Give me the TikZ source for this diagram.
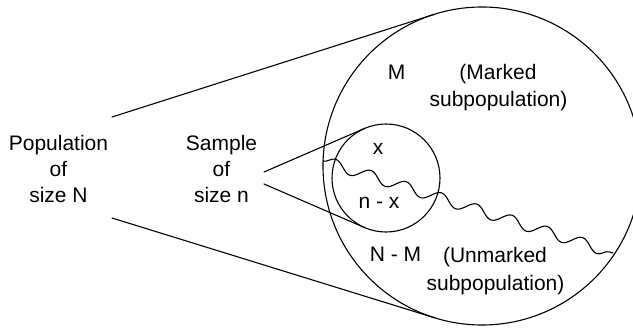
\documentclass[tikz,border=0pt]{standalone}
\usepackage{fontspec}
\setmainfont{Liberation Sans}
\usetikzlibrary{decorations.pathmorphing,calc}
\begin{document}
\begin{tikzpicture}[x=1pt,y=-1pt,
  lbl/.style={font=\fontsize{21}{26}\selectfont, inner sep=0pt, anchor=base},
  ln/.style={line width=1.1pt, line join=round, line cap=round},
  ring/.style={circle, draw, ln, inner sep=0pt, outer sep=0pt}]
\clip (0,0) rectangle (633,329);
\node[ring, minimum size=318pt] (pop) at (482,166) {};
\node[ring, minimum size=108pt] (smp) at (386,178) {};
% left labels
\node[lbl] (p1) at (58.5,150) {Population};
\node[lbl] (p2) at (58.5,176) {of};
\node[lbl] (p3) at (58.5,202) {size N};
\node[lbl] (s1) at (221.5,150) {Sample};
\node[lbl] (s2) at (221.5,176) {of};
\node[lbl] (s3) at (221.5,202) {size n};
% inside labels
\node[lbl] (m) at (396.5,80) {M};
\node[lbl] (mk1) at (498,80) {(Marked};
\node[lbl] (mk2) at (498.5,107) {subpopulation)};
\node[lbl] (x) at (378,154) {x};
\node[lbl] (nx) at (379,208) {n - x};
\node[lbl] (nm) at (395.5,261) {N - M};
\node[lbl] (um1) at (495,262) {(Unmarked};
\node[lbl] (um2) at (495.5,290) {subpopulation)};
% connectors
\coordinate (pu) at (112,117);
\coordinate (pd) at (112,218);
\coordinate (su) at (264,172);
\coordinate (sd) at (264,184);
\draw[ln] (pu) -- (tangent cs:node=pop,point={(pu)},solution=2);
\draw[ln] (pd) -- (tangent cs:node=pop,point={(pd)},solution=1);
\draw[ln] (su) -- (tangent cs:node=smp,point={(su)},solution=2);
\draw[ln] (sd) -- (tangent cs:node=smp,point={(sd)},solution=1);
% wavy divider
\coordinate (ws) at (323,161);
\coordinate (we) at (613,253);
\draw[ln, decorate, decoration={snake, segment length=37pt, amplitude=5.5pt}] (ws) -- (we);
\end{tikzpicture}
\end{document}
